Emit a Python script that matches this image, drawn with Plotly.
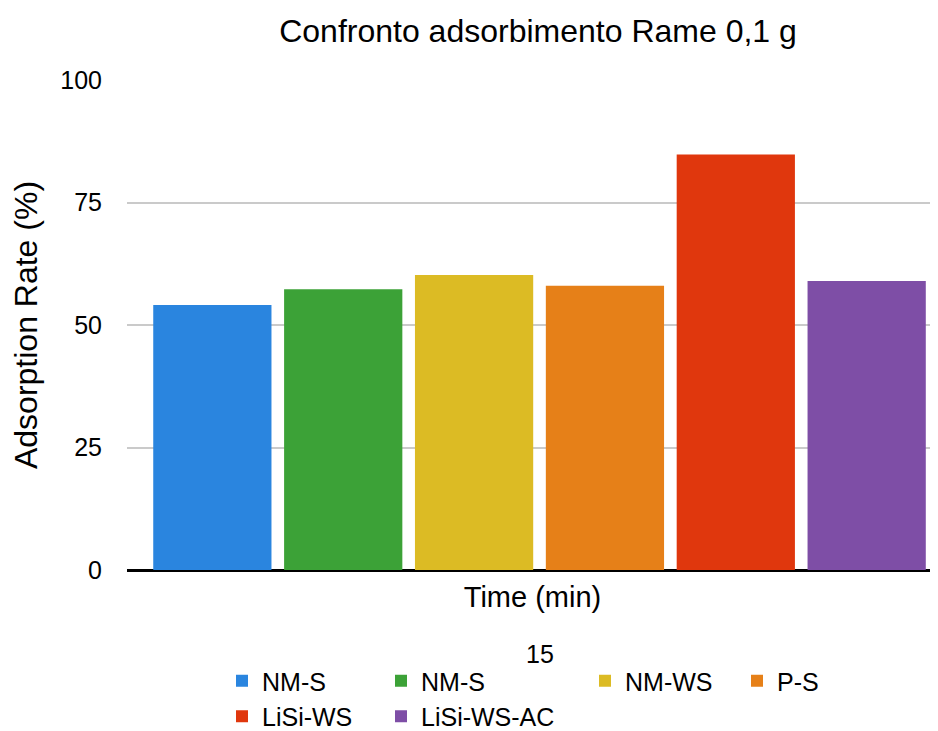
import plotly.graph_objects as go

categories = ["15"]
series_names = ["NM-S", "NM-S", "NM-WS", "P-S", "LiSi-WS", "LiSi-WS-AC"]
series_values = [54.1, 57.3, 60.2, 58.0, 84.8, 59.0]
series_colors = ["#2A85DF", "#3CA237", "#DCBB24", "#E68018", "#E0370D", "#7E4EA6"]
series_legends = ["legend", "legend2", "legend3", "legend4", "legend", "legend2"]
y_ticks = [0, 25, 50, 75, 100]

FONT = "Liberation Sans, Arial, Helvetica, sans-serif"

fig = go.Figure()
for name, val, col, lg in zip(series_names, series_values, series_colors, series_legends):
    fig.add_trace(go.Bar(
        x=[0], y=[val], name=name, marker=dict(color=col, line=dict(width=0)),
        legend=lg, showlegend=True,
    ))

# page body has an 8px margin, so the figure is drawn 8px smaller
OFF = 8
W, H = 938 - OFF, 731 - OFF
L, R, T, B = 127 - OFF, 0, 80 - OFF, 161
pw = W - L - R
ph = H - T - B

def px_x(px):
    return (px - L) / pw

def px_y(py):
    return (H - B - py) / ph

legend_common = dict(
    orientation="v", xanchor="left", yanchor="top",
    font=dict(family=FONT, size=25, color="black"),
    bgcolor="rgba(0,0,0,0)", tracegroupgap=0, itemclick=False,
)

fig.update_layout(
    width=W, height=H,
    margin=dict(l=L, r=R, t=T, b=B, autoexpand=False),
    paper_bgcolor="white", plot_bgcolor="white",
    font=dict(family=FONT, color="black"),
    barmode="group", bargap=0.0483, bargroupgap=0.0965,
    title=dict(text="Confronto adsorbimento Rame 0,1 g",
               font=dict(family=FONT, size=32, color="black"),
               x=px_x(530), xref="paper", xanchor="center",
               y=1 - 23 / H, yref="container", yanchor="middle"),
    xaxis=dict(range=[-0.5, 0.483], showticklabels=False, showgrid=False,
               zeroline=False, showline=False, ticks="", automargin=False,
               title=dict(text="Time (min)", font=dict(family=FONT, size=29, color="black"),
                          standoff=16)),
    yaxis=dict(range=[0, 100], tickvals=y_ticks, ticktext=[str(t) for t in y_ticks],
               showgrid=True, gridcolor="#CACACA", gridwidth=1.5,
               zeroline=True, zerolinecolor="black", zerolinewidth=2.5,
               showline=False, ticks="", ticklabelstandoff=24, automargin=False,
               tickfont=dict(family=FONT, size=25, color="black"),
               title=dict(text="Adsorption Rate (%)", font=dict(family=FONT, size=32, color="black"),
                          standoff=34)),
    legend=dict(x=px_x(214), y=px_y(650), **legend_common),
    legend2=dict(x=px_x(373), y=px_y(650), **legend_common),
    legend3=dict(x=px_x(577), y=px_y(650), **legend_common),
    legend4=dict(x=px_x(729), y=px_y(650), **legend_common),
    annotations=[dict(text=categories[0], x=px_x(532), y=px_y(646), xref="paper", yref="paper",
                      xanchor="center", yanchor="middle", showarrow=False,
                      font=dict(family=FONT, size=25, color="black"))],
)

fig.write_html("out.html")
